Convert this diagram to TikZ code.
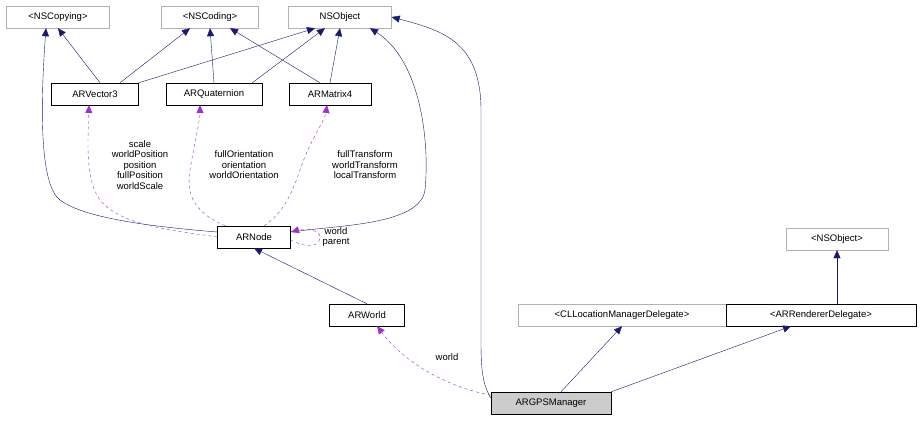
\documentclass[tikz,border=0pt]{standalone}
\usepackage{fontspec}
\setmainfont{Liberation Sans}
\usetikzlibrary{arrows.meta}
\definecolor{navy}{HTML}{191970}
\definecolor{purp}{HTML}{9A32CD}
\begin{document}
\begin{tikzpicture}[x=1pt,y=-1pt,
  box/.style={draw=black,fill=white,minimum height=22pt,inner xsep=4pt,font=\fontsize{9.5}{10}\selectfont},
  gbox/.style={box,draw=gray!60},
  inh/.style={draw=navy,-{Triangle[length=8pt,width=7pt]},fill=none},
  use/.style={draw=purp,dashed,-{Triangle[length=8pt,width=7pt]}},
  lab/.style={font=\fontsize{9.5}{10.5}\selectfont,align=center,inner sep=0pt}]
\useasboundingbox (0,0) rectangle (924,421);
\node[gbox,minimum width=103pt] (nscopy) at (58,17) {<NSCopying>};
\node[gbox,minimum width=97pt] (nscod) at (210,17) {<NSCoding>};
\node[gbox,minimum width=103pt] (nsobj) at (340,17) {NSObject};
\node[box,minimum width=87pt] (v3) at (95,94) {ARVector3};
\node[box,minimum width=96pt] (quat) at (214,94) {ARQuaternion};
\node[box,minimum width=82pt] (m4) at (330,94) {ARMatrix4};
\node[box,minimum width=73pt] (node) at (254,237) {ARNode};
\node[box,minimum width=75pt] (world) at (367,315) {ARWorld};
\node[gbox,minimum width=102pt] (nsobjp) at (837,239) {<NSObject>};
\node[gbox,minimum width=208pt] (cl) at (622,315) {<CLLocationManagerDelegate>};
\node[box,minimum width=190pt] (rend) at (821,315) {<ARRendererDelegate>};
\node[box,fill=gray!40,minimum width=120pt] (gps) at (551,403) {ARGPSManager};

\draw[inh] (v3.north) ++(5,0) -- (nscopy.south);
\draw[inh] (v3.north) ++(25,0) -- ([xshift=-20pt]nscod.south);
\draw[inh] (v3.north east) -- ([xshift=-25pt]nsobj.south);
\draw[inh] (quat.north) -- (nscod.south);
\draw[inh] (quat.north east) ++(-10,0) -- ([xshift=-15pt]nsobj.south);
\draw[inh] (m4.north) ++(-10,0) -- ([xshift=20pt]nscod.south);
\draw[inh] (m4.north) -- (nsobj.south);
\draw[inh] (node.west) ++(0,-5) .. controls (130,225) and (80,215) .. (60,200) .. controls (40,185) and (40,110) .. ([xshift=-12pt]nscopy.south);
\draw[inh] (node.east) ++(0,-5) .. controls (340,225) and (420,225) .. (425,190) .. controls (430,140) and (420,60) .. ([xshift=30pt]nsobj.south);
\draw[inh] (world.north) -- (node.south);
\draw[inh] (gps.west) ++(0,-5) .. controls (480,380) and (481,360) .. (481,320) -- (481,110) .. controls (481,40) and (440,30) .. (nsobj.east);
\draw[inh] (gps.north) ++(10,0) -- (cl.south);
\draw[inh] (gps.north east) -- ([xshift=-30pt]rend.south);
\draw[inh] (rend.north) ++(16,0) -- (nsobjp.south);

\draw[use] (node.west) .. controls (170,230) and (120,225) .. (100,200) .. controls (85,180) and (88,140) .. (89,105);
\draw[use] (node.north west) ++(8,0) .. controls (200,215) and (185,200) .. (190,170) .. controls (195,140) and (200,120) .. (200,105);
\draw[use] (node.north) ++(10,0) .. controls (280,215) and (290,200) .. (300,170) .. controls (310,140) and (325,120) .. (327,105);
\draw[use] (node.east) ++(0,3) .. controls (310,250) and (320,245) .. (320,237) .. controls (320,230) and (305,228) .. (291,232);
\draw[use] (gps.west) ++(0,-8) .. controls (460,390) and (410,370) .. (377,326);

\node[lab] at (140,165) {scale\\worldPosition\\position\\fullPosition\\worldScale};
\node[lab] at (244,165) {fullOrientation\\orientation\\worldOrientation};
\node[lab] at (365,165) {fullTransform\\worldTransform\\localTransform};
\node[lab] at (336,237) {world\\parent};
\node[lab] at (447,357) {world};
\end{tikzpicture}
\end{document}
